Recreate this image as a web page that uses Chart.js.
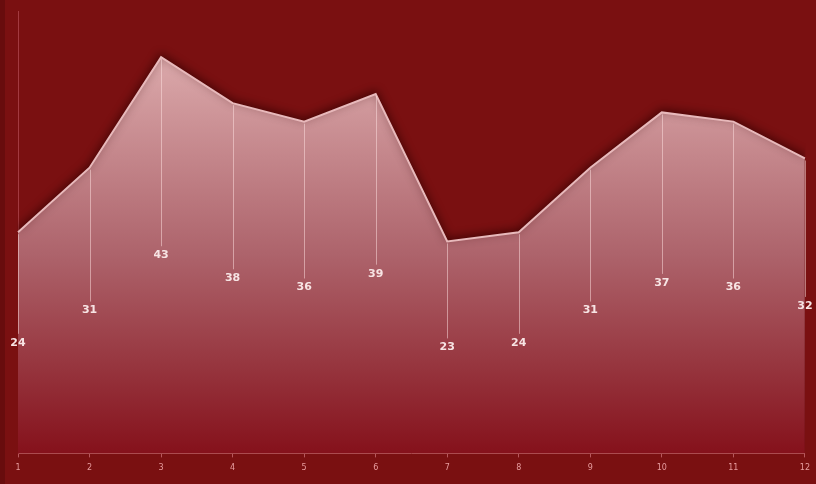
<!DOCTYPE html>
<html>
<head>
<meta charset="utf-8">
<script src="https://cdn.jsdelivr.net/npm/chart.js@4.4.1/dist/chart.umd.min.js"></script>
<style>
  html, body { margin: 0; padding: 0; background: #7a1011; }
  #wrap { width: 811px; height: 484px; border-left: 5px solid #680c0d; }
</style>
</head>
<body>
<div id="wrap"><canvas id="area-chart" width="811" height="484"></canvas></div>
<script>
// chart data
const categories = ['1', '2', '3', '4', '5', '6', '7', '8', '9', '10', '11', '12'];
const values = [24, 31, 43, 38, 36, 39, 23, 24, 31, 37, 36, 32];
const yMax = 48;

// drop lines + value labels halfway down each point
const dropLabels = {
  id: 'dropLabels',
  afterDatasetsDraw(chart) {
    const ctx = chart.ctx;
    const yScale = chart.scales.y;
    const meta = chart.getDatasetMeta(0);
    ctx.save();
    meta.data.forEach((pt, i) => {
      const labelY = yScale.getPixelForValue(values[i] / 2);
      ctx.strokeStyle = 'rgba(255, 225, 225, 0.5)';
      ctx.lineWidth = 1;
      ctx.beginPath();
      ctx.moveTo(Math.round(pt.x) + 0.5, pt.y + 2);
      ctx.lineTo(Math.round(pt.x) + 0.5, labelY - 9);
      ctx.stroke();
      ctx.fillStyle = '#f7e4e4';
      ctx.font = "bold 11px 'DejaVu Sans', sans-serif";
      ctx.textAlign = 'center';
      ctx.textBaseline = 'middle';
      ctx.fillText(String(values[i]), pt.x, labelY);
    });
    ctx.restore();
  }
};

// dark glow over the line
const lineShadow = {
  id: 'lineShadow',
  beforeDatasetsDraw(chart) {
    const ctx = chart.ctx;
    ctx.save();
    ctx.shadowColor = 'rgba(50, 0, 0, 0.7)';
    ctx.shadowBlur = 8;
    ctx.shadowOffsetY = -2;
  },
  afterDatasetsDraw(chart) {
    chart.ctx.restore();
  }
};

new Chart(document.getElementById('area-chart'), {
  type: 'line',
  data: {
    labels: categories,
    datasets: [{
      data: values,
      fill: 'origin',
      borderColor: '#e8b9bb',
      borderWidth: 2,
      pointRadius: 0,
      tension: 0,
      backgroundColor: (c) => {
        const area = c.chart.chartArea;
        if (!area) return '#b06670';
        const y = c.chart.scales.y;
        const g = c.chart.ctx.createLinearGradient(0, y.getPixelForValue(43), 0, area.bottom);
        g.addColorStop(0, '#dba9ab');
        g.addColorStop(0.5, '#ad636b');
        g.addColorStop(1, '#85111b');
        return g;
      }
    }]
  },
  options: {
    responsive: false,
    animation: false,
    layout: { padding: { left: 5, right: 0, top: 11, bottom: 5 } },
    plugins: { legend: { display: false }, tooltip: { enabled: false } },
    scales: {
      x: {
        offset: false,
        grid: { display: true, drawOnChartArea: false, color: '#b8585c', tickLength: 4 },
        border: { color: '#b8585c', width: 1 },
        ticks: { color: '#e79c9e', font: { size: 8, family: "'DejaVu Sans', sans-serif" }, padding: 6, maxRotation: 0 }
      },
      y: {
        min: 0,
        max: yMax,
        grid: { display: false },
        border: { display: true, color: '#a33a40', width: 1 },
        ticks: { display: false }
      }
    }
  },
  plugins: [lineShadow, dropLabels]
});
</script>
</body>
</html>
